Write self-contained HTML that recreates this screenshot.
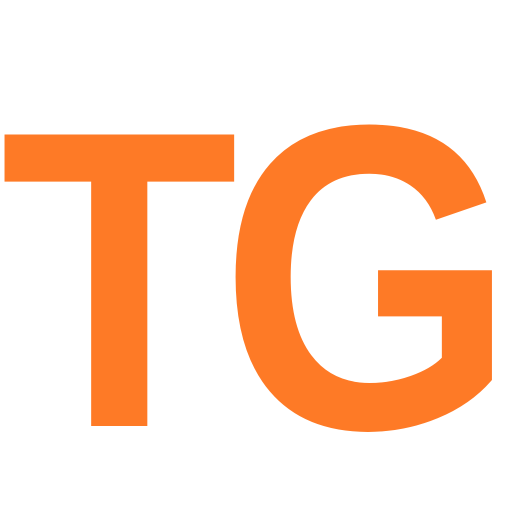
<!DOCTYPE html>
<html><head><meta charset="utf-8"><style>html,body{margin:0;padding:0;background:#fff;width:512px;height:512px;overflow:hidden}</style></head>
<body>
<svg width="512" height="512" viewBox="0 0 512 512" xmlns="http://www.w3.org/2000/svg">
<rect width="512" height="512" fill="#fff"/>
<g transform="translate(5,426) scale(0.97,1.054)">
<text x="-5" y="0" font-family="Liberation Sans, sans-serif" font-weight="bold" font-size="402" fill="#FE7A26">T</text>
</g>
<g transform="translate(237,427.7) scale(0.945,1.08)">
<text x="-18" y="0" font-family="Liberation Sans, sans-serif" font-weight="bold" font-size="402" fill="#FE7A26">G</text>
</g>
</svg>
</body></html>
